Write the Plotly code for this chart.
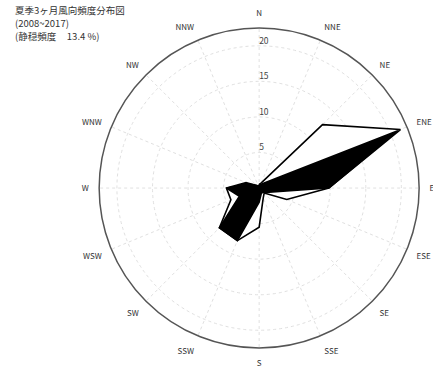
import plotly.graph_objects as go

directions = ["N", "NNE", "NE", "ENE", "E", "ESE", "SE", "SSE",
              "S", "SSW", "SW", "WSW", "W", "WNW", "NW", "NNW"]
outline_vals = [0.5, 0.8, 12.6, 21.5, 9.8, 4.2, 1.0, 1.5,
                5.5, 8.0, 7.9, 4.3, 4.6, 1.5, 0.5, 0.3]
filled_vals = [0.3, 0.5, 1.0, 21.1, 9.8, 1.5, 0.8, 0.8,
               2.0, 8.0, 7.9, 3.0, 4.6, 2.0, 0.5, 0.3]
radial_ticks = [5, 10, 15, 20]
title_lines = ["夏季3ヶ月風向頻度分布図", "(2008~2017)", "(静穏頻度     13.4 %)"]

fig = go.Figure()
fig.add_trace(go.Scatterpolar(
    r=outline_vals + outline_vals[:1], theta=directions + directions[:1],
    mode="lines", fill="toself", fillcolor="white",
    line=dict(color="black", width=1.6), showlegend=False))
fig.add_trace(go.Scatterpolar(
    r=filled_vals + filled_vals[:1], theta=directions + directions[:1],
    mode="lines", fill="toself", fillcolor="black",
    line=dict(color="black", width=1.6), showlegend=False))
# radial tick labels drawn horizontally beside the north axis
fig.add_trace(go.Scatterpolar(
    r=radial_ticks, theta=["N"] * len(radial_ticks), mode="text",
    text=[str(v) for v in radial_ticks], textposition="top right",
    textfont=dict(size=8.5, color="#444"), showlegend=False, hoverinfo="skip"))

annotations = []
for i, line in enumerate(title_lines):
    annotations.append(dict(
        x=0.03, y=1 - (10 + 13 * i) / 372, xref="paper", yref="paper",
        xanchor="left", yanchor="middle", text=line, showarrow=False,
        font=dict(size=9.5, color="#333", family="Noto Sans CJK JP, sans-serif")))

fig.update_layout(
    width=433, height=372,
    margin=dict(l=0, r=0, t=0, b=0),
    paper_bgcolor="white",
    font=dict(family="Noto Sans CJK JP, Noto Sans, sans-serif", size=8, color="#333"),
    polar=dict(
        domain=dict(x=[0.229, 0.968], y=[0.064, 0.925]),
        bgcolor="white",
        angularaxis=dict(
            rotation=90, direction="clockwise", categoryorder="array",
            categoryarray=directions, type="category",
            showline=True, linecolor="#555", linewidth=1.5,
            gridcolor="#e0e0e0", griddash="dot", gridwidth=1,
            ticks="outside", ticklen=8, tickcolor="rgba(255,255,255,0)",
            tickfont=dict(size=8, color="#333")),
        radialaxis=dict(
            range=[0, 22.5], tickvals=radial_ticks, angle=90,
            showticklabels=False,
            showline=False, gridcolor="#e0e0e0", griddash="dot", gridwidth=1,
            ticks="")
    ),
    annotations=annotations
)
fig.write_html("out.html")
